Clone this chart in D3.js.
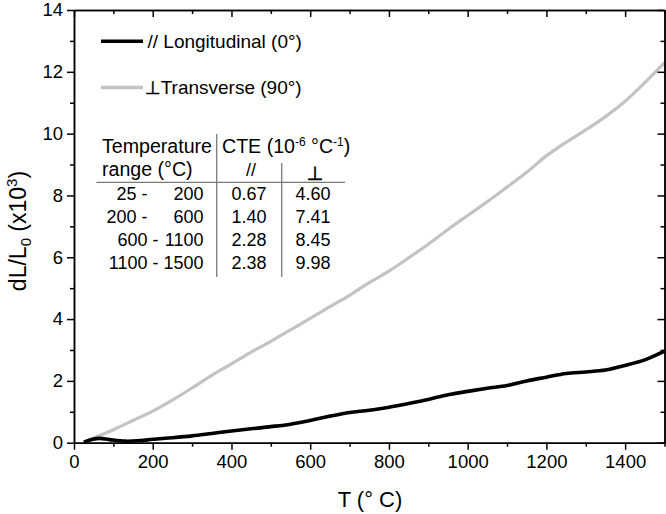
<!DOCTYPE html>
<html><head><meta charset="utf-8">
<script src="https://cdn.jsdelivr.net/npm/d3@7/dist/d3.min.js"></script>
<style>
html,body{margin:0;padding:0;background:#fff;}
svg{display:block;font-family:"Liberation Sans",Arial,sans-serif;}
</style></head>
<body>
<svg id="chart" width="666" height="514"></svg>
<script>
// ---- data ----
const tempLong = [25,45,65,90,130,170,200,250,300,350,400,450,500,550,600,650,700,750,800,850,900,950,1000,1050,1100,1150,1200,1250,1300,1350,1400,1450,1500];
const longitudinal = [0.02,0.10,0.14,0.10,0.05,0.07,0.11,0.16,0.22,0.30,0.38,0.45,0.52,0.60,0.72,0.86,0.98,1.05,1.15,1.27,1.40,1.55,1.66,1.76,1.85,2.00,2.12,2.24,2.29,2.35,2.50,2.68,2.96];
const tempTrans = [25,50,75,100,150,200,250,300,350,400,450,500,550,600,650,700,750,800,850,900,950,1000,1050,1100,1150,1200,1250,1300,1350,1400,1450,1500];
const transverse = [0.00,0.15,0.28,0.42,0.72,1.02,1.38,1.77,2.18,2.55,2.93,3.28,3.65,4.02,4.40,4.77,5.18,5.55,5.98,6.42,6.90,7.35,7.80,8.27,8.75,9.28,9.72,10.12,10.55,11.05,11.65,12.30];
const xMajorTicks = [0,200,400,600,800,1000,1200,1400];
const xMinorTicks = [100,300,500,700,900,1100,1300,1500];
const yMajorTicks = [0,2,4,6,8,10,12,14];
const yMinorTicks = [1,3,5,7,9,11,13];
const legendLabels = ["// Longitudinal (0°)", "Transverse (90°)"];
const tableRanges = [["25 -","200"],["200 -","600"],["600 -","1100"],["1100 -","1500"]];
const tableCTEpar = ["0.67","1.40","2.28","2.38"];
const tableCTEperp = ["4.60","7.41","8.45","9.98"];

(function(){
const svg = d3.select("#chart");
const x = d3.scaleLinear().domain([0,1500]).range([74,664.5]);
const y = d3.scaleLinear().domain([0,14]).range([442.7,10]);
const fs = 18;

// curves
const line = d3.line().x(d=>x(d[0])).y(d=>y(d[1])).curve(d3.curveCatmullRom);
svg.append("path").datum(tempTrans.map((t,i)=>[t,transverse[i]]))
  .attr("d",line).attr("fill","none").attr("stroke","#c3c3c3").attr("stroke-width",3.2);
svg.append("path").datum(tempLong.map((t,i)=>[t,longitudinal[i]]))
  .attr("d",line).attr("fill","none").attr("stroke","#000").attr("stroke-width",3.6);

// axes
function styleAxis(g){
  g.select(".domain").attr("stroke","#000").attr("stroke-width",1.5);
  g.selectAll(".tick line").attr("stroke","#000").attr("stroke-width",1.5);
  g.selectAll(".tick text").attr("font-size",18.5).attr("font-family","Liberation Sans, Arial, sans-serif").attr("fill","#000");
}
function addAxis(axis, tx, ty){
  const g = svg.append("g").attr("transform",`translate(${tx},${ty})`).call(axis);
  styleAxis(g);
  return g;
}
const fmt = d3.format("d");
addAxis(d3.axisBottom(x).tickValues(xMajorTicks).tickFormat(fmt).tickSize(7).tickPadding(5).tickSizeOuter(0), 0, y(0));
addAxis(d3.axisBottom(x).tickValues(xMinorTicks).tickSize(4).tickFormat("").tickSizeOuter(0), 0, y(0));
addAxis(d3.axisBottom(x).tickValues(xMajorTicks).tickSize(7).tickFormat("").tickSizeOuter(0), 0, y(14));
addAxis(d3.axisBottom(x).tickValues(xMinorTicks).tickSize(4).tickFormat("").tickSizeOuter(0), 0, y(14));
addAxis(d3.axisLeft(y).tickValues(yMajorTicks).tickFormat(fmt).tickSize(7).tickPadding(4).tickSizeOuter(0), x(0), 0);
addAxis(d3.axisLeft(y).tickValues(yMinorTicks).tickSize(4).tickFormat("").tickSizeOuter(0), x(0), 0);
addAxis(d3.axisLeft(y).tickValues(yMajorTicks).tickSize(7).tickFormat("").tickSizeOuter(0), x(1500), 0);
addAxis(d3.axisLeft(y).tickValues(yMinorTicks).tickSize(4).tickFormat("").tickSizeOuter(0), x(1500), 0);

// axis titles
svg.append("text").attr("x",370).attr("y",507).attr("text-anchor","middle")
  .attr("font-size",22).text("T (° C)");
const yt = svg.append("text").attr("transform","translate(26,231) rotate(-90)")
  .attr("text-anchor","middle").attr("font-size",23);
yt.append("tspan").text("dL/L");
yt.append("tspan").attr("font-size",15).attr("dy",5).text("0");
yt.append("tspan").attr("dy",-5).text(" (x10");
yt.append("tspan").attr("font-size",15).attr("dy",-9).text("3");
yt.append("tspan").attr("dy",9).text(")");

// legend
svg.append("line").attr("x1",101).attr("x2",143).attr("y1",41.3).attr("y2",41.3)
  .attr("stroke","#000").attr("stroke-width",3.6);
svg.append("text").attr("x",147.5).attr("y",48).attr("font-size",19).text(legendLabels[0]);
svg.append("line").attr("x1",101).attr("x2",143).attr("y1",87.5).attr("y2",87.5)
  .attr("stroke","#c3c3c3").attr("stroke-width",3.4);
const l2 = svg.append("text").attr("x",145).attr("y",94).attr("font-size",19).attr("fill","#000");
l2.append("tspan").attr("font-family","DejaVu Sans").attr("font-size",18)
  .attr("fill","#000").attr("stroke","#000").attr("stroke-width",0.5).text("⊥");
l2.append("tspan").text(legendLabels[1]);

// table
const tg = svg.append("g").attr("font-size",fs).attr("fill","#000");
tg.append("text").attr("x",102).attr("y",153).attr("font-size",19.6).text("Temperature");
const cte = tg.append("text").attr("x",222).attr("y",153).attr("font-size",19.6);
cte.append("tspan").text("CTE (10");
cte.append("tspan").attr("font-size",12).attr("dy",-7).text("-6");
cte.append("tspan").attr("dy",7).text(" °C");
cte.append("tspan").attr("font-size",12).attr("dy",-7).text("-1");
cte.append("tspan").attr("dy",7).text(")");
tg.append("text").attr("x",102).attr("y",176).attr("font-size",19.6).text("range (°C)");
tg.append("text").attr("x",251).attr("y",176).attr("text-anchor","middle").text("//");
tg.append("text").attr("x",315).attr("y",180).attr("text-anchor","middle")
  .attr("font-family","DejaVu Sans").attr("font-size",19)
  .attr("fill","#000").attr("stroke","#000").attr("stroke-width",0.6).text("⊥");
const rowY = [199.5,223,245.5,269];
tableRanges.forEach((r,i)=>{
  tg.append("text").attr("x", i<2?147.5:158.5).attr("y",rowY[i]).attr("text-anchor","end").text(r[0]);
  tg.append("text").attr("x",203.5).attr("y",rowY[i]).attr("text-anchor","end").text(r[1]);
  tg.append("text").attr("x",249).attr("y",rowY[i]).attr("text-anchor","middle").text(tableCTEpar[i]);
  tg.append("text").attr("x",313).attr("y",rowY[i]).attr("text-anchor","middle").text(tableCTEperp[i]);
});
const lc = "#7a7a7a";
tg.append("line").attr("x1",96.5).attr("x2",345).attr("y1",182.3).attr("y2",182.3).attr("stroke",lc).attr("stroke-width",1.3);
tg.append("line").attr("x1",216.7).attr("x2",216.7).attr("y1",134).attr("y2",277).attr("stroke",lc).attr("stroke-width",1.3);
tg.append("line").attr("x1",281.7).attr("x2",281.7).attr("y1",163).attr("y2",277).attr("stroke",lc).attr("stroke-width",1.3);
})();
</script>
</body></html>
